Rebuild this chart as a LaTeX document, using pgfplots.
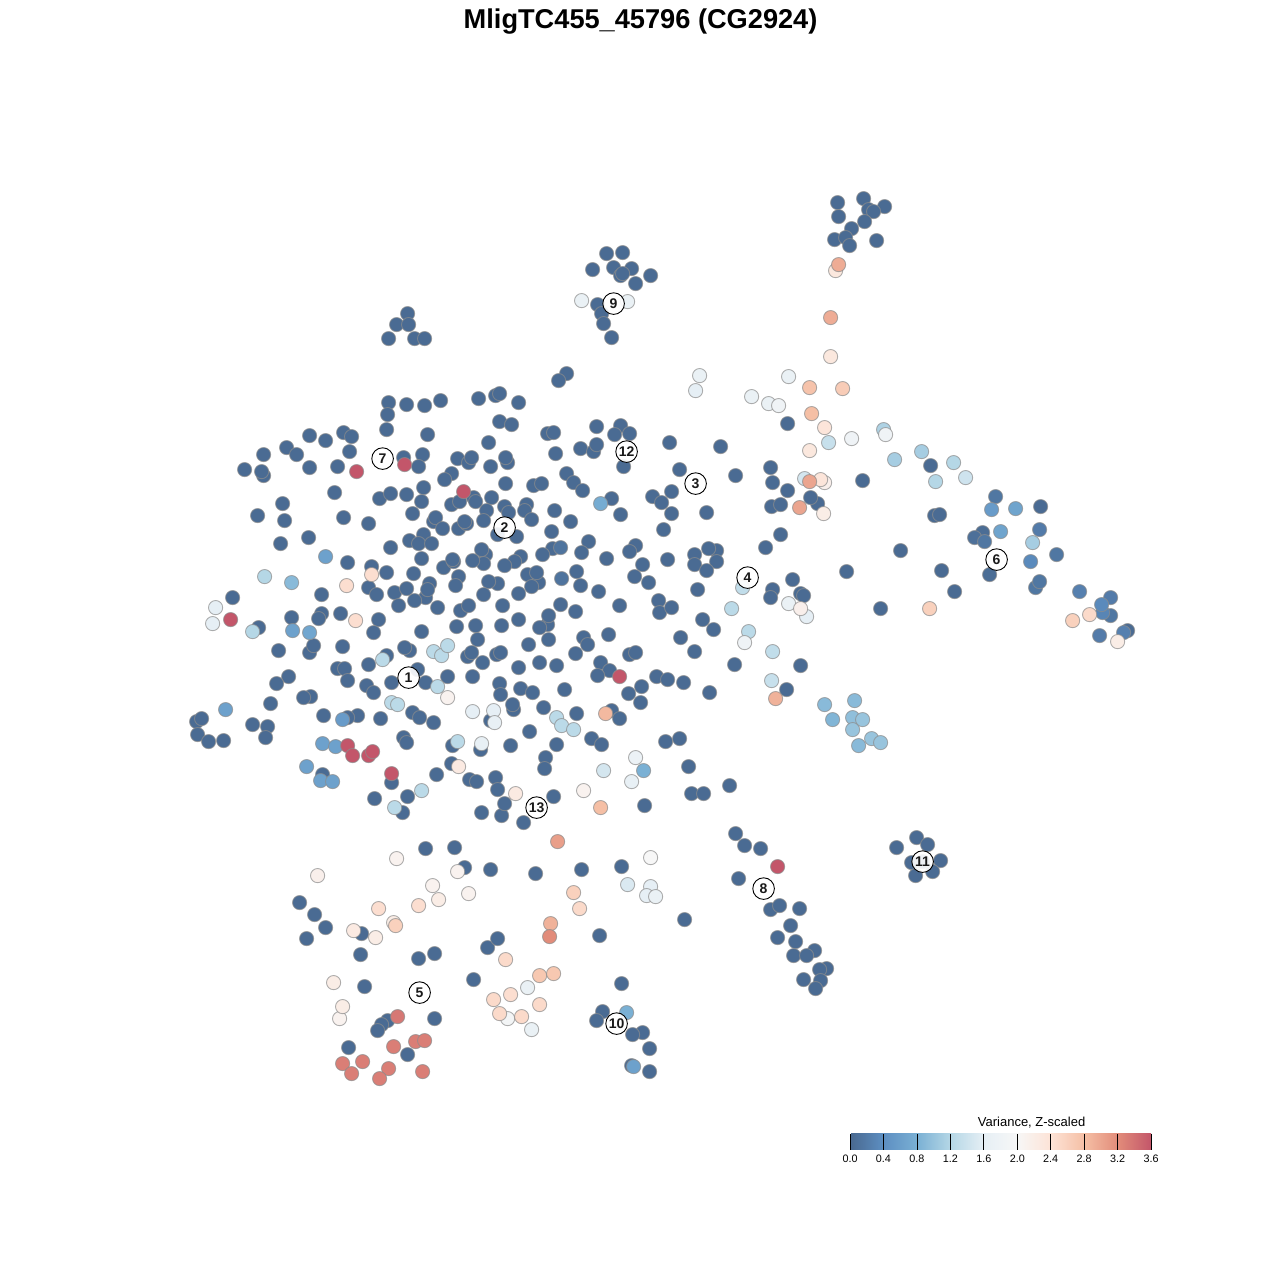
\documentclass[border=0pt]{standalone}
\usepackage{pgfplots}
\usepackage{fontspec}
\setmainfont{Liberation Sans}
\pgfplotsset{compat=1.18}
\begin{document}
\begin{tikzpicture}[x=1pt,y=1pt]
\path[use as bounding box] (0,0) rectangle (640,640);
\begin{axis}[
  at={(0,0)},anchor=south west,
  scale only axis,width=640pt,height=640pt,
  xmin=-0.6,xmax=1279.4,ymin=-0.6,ymax=1279.4,y dir=reverse,
  hide axis,clip=false,
  point meta min=0,point meta max=3.6,
  colormap={vr}{rgb255(0cm)=(73,104,143);rgb255(1cm)=(93,143,194);rgb255(2cm)=(122,176,212);rgb255(3cm)=(181,215,230);rgb255(4cm)=(230,239,245);rgb255(5cm)=(247,247,247);rgb255(6cm)=(253,227,214);rgb255(7cm)=(245,191,165);rgb255(8cm)=(226,140,122);rgb255(9cm)=(195,86,106)},
  colorbar horizontal,
  colorbar style={
    at={(0.6641,0.1016)},anchor=south west,
    scale only axis,width=150.5pt,height=8pt,
    xtick={0,0.4,0.8,1.2,1.6,2.0,2.4,2.8,3.2,3.6},
    tick align=inside,major tick length=8pt,
    tick style={black,line width=0.4pt},
    axis line style={draw=none},
    xticklabel style={font=\fontsize{5.4}{6}\selectfont,inner sep=1pt,yshift=-1.4pt},
    /pgf/number format/assume math mode=true,
    /pgf/number format/fixed,/pgf/number format/fixed zerofill,/pgf/number format/precision=1,
  },
]
\addplot[scatter,only marks,mark=*,mark size=3.55pt,
  point meta=explicit,
  scatter/use mapped color={draw=black!45,draw opacity=0.7,fill=mapped color},
  line width=0.45pt]
  table[x=x,y=y,meta=v]{
x y v
863 198 0.03
837 202 0.03
884 206 0.03
868 209 0.03
873 211 0.03
838 216 0.03
864 221 0.03
851 228 0.03
834 239 0.03
845 237 0.03
876 240 0.03
849 245 0.03
606 253 0.03
622 252 0.03
592 269 0.03
613 267 0.03
631 268 0.03
620 275 0.03
622 273 0.03
650 275 0.03
635 283 0.03
597 304 0.03
601 313 0.03
603 323 0.03
611 337 0.03
407 313 0.03
396 324 0.03
408 324 0.03
388 338 0.03
414 338 0.03
424 338 0.03
566 373 0.03
558 380 0.03
388 402 0.03
406 404 0.03
424 405 0.03
440 400 0.03
478 398 0.03
495 395 0.03
499 393 0.03
518 402 0.03
387 414 0.03
386 429 0.03
427 434 0.03
499 421 0.03
511 424 0.03
488 442 0.03
309 435 0.03
325 440 0.03
343 432 0.03
351 436 0.03
286 447 0.03
296 454 0.03
263 454 0.03
349 451 0.03
403 457 0.03
422 454 0.03
244 469 0.03
263 475 0.03
261 471 0.03
309 467 0.03
337 466 0.03
418 466 0.03
457 458 0.03
468 462 0.03
471 457 0.03
490 466 0.03
334 492 0.03
451 473 0.03
444 479 0.03
379 498 0.03
390 493 0.03
406 494 0.03
423 487 0.03
421 501 0.03
473 497 0.03
451 504 0.03
459 501 0.03
475 501 0.03
491 497 0.03
486 510 0.03
282 503 0.03
257 515 0.03
284 520 0.03
343 517 0.03
368 523 0.03
412 513 0.03
433 521 0.03
435 517 0.03
442 528 0.03
458 528 0.03
466 523 0.03
464 521 0.03
483 520 0.03
308 537 0.03
280 543 0.03
390 547 0.03
409 540 0.03
423 534 0.03
418 543 0.03
431 543 0.03
485 554 0.03
481 549 0.03
483 563 0.03
472 560 0.03
421 558 0.03
443 567 0.03
453 561 0.03
452 559 0.03
347 562 0.03
371 566 0.03
386 572 0.03
413 573 0.03
458 576 0.03
455 585 0.03
497 583 0.03
488 581 0.03
368 587 0.03
376 594 0.03
394 592 0.03
406 588 0.03
429 583 0.03
425 597 0.03
427 589 0.03
414 600 0.03
483 594 0.03
321 594 0.03
232 597 0.03
398 605 0.03
437 607 0.03
460 610 0.03
468 605 0.03
321 613 0.03
318 618 0.03
340 613 0.03
291 617 0.03
378 619 0.03
258 627 0.03
373 632 0.03
421 631 0.03
456 626 0.03
475 625 0.03
477 639 0.03
278 650 0.03
309 652 0.03
313 645 0.03
342 646 0.03
409 650 0.03
404 647 0.03
386 655 0.03
368 664 0.03
467 656 0.03
471 652 0.03
482 662 0.03
496 654 0.03
500 652 0.03
337 668 0.03
344 668 0.03
288 676 0.03
276 683 0.03
347 680 0.03
366 685 0.03
373 692 0.03
391 682 0.03
417 669 0.03
425 682 0.03
447 676 0.03
472 676 0.03
499 683 0.03
500 694 0.03
270 703 0.03
310 696 0.03
303 697 0.03
323 715 0.03
357 715 0.03
347 717 0.03
380 718 0.03
196 721 0.03
201 718 0.03
197 734 0.03
208 741 0.03
223 740 0.03
252 724 0.03
267 726 0.03
265 737 0.03
412 712 0.03
419 717 0.03
433 722 0.03
490 720 0.03
403 737 0.03
406 742 0.03
452 745 0.03
480 749 0.03
451 763 0.03
322 774 0.03
391 782 0.03
436 774 0.03
469 779 0.03
476 781 0.03
495 777 0.03
497 789 0.03
407 796 0.03
374 798 0.03
402 812 0.03
481 812 0.03
501 815 0.03
504 803 0.03
425 848 0.03
454 847 0.03
464 867 0.03
490 869 0.03
596 426 0.03
620 425 0.03
614 434 0.03
629 433 0.03
547 433 0.03
553 432 0.03
669 442 0.03
720 446 0.03
580 448 0.03
593 451 0.03
596 444 0.03
555 453 0.03
507 462 0.03
505 457 0.03
623 466 0.03
679 469 0.03
770 467 0.03
735 475 0.03
566 473 0.03
573 482 0.03
582 490 0.03
533 485 0.03
541 483 0.03
505 483 0.03
772 482 0.03
787 490 0.03
652 496 0.03
671 491 0.03
661 502 0.03
671 513 0.03
706 512 0.03
771 506 0.03
780 504 0.03
504 506 0.03
508 512 0.03
526 504 0.03
524 510 0.03
531 519 0.03
554 510 0.03
570 521 0.03
611 498 0.03
620 514 0.03
497 534 0.03
516 536 0.03
551 531 0.03
663 529 0.03
780 534 0.03
765 547 0.03
635 545 0.03
629 551 0.03
588 541 0.03
581 552 0.03
606 558 0.03
552 548 0.03
542 554 0.03
520 556 0.03
514 561 0.03
504 565 0.03
642 564 0.03
667 559 0.03
694 554 0.03
694 564 0.03
716 550 0.03
708 548 0.03
716 561 0.03
706 570 0.03
634 576 0.03
648 582 0.03
576 571 0.03
580 585 0.03
527 574 0.03
538 582 0.03
536 572 0.03
531 586 0.03
518 593 0.03
598 591 0.03
697 589 0.03
792 579 0.03
772 589 0.03
770 597 0.03
800 593 0.03
803 595 0.03
658 600 0.03
659 612 0.03
671 607 0.03
619 605 0.03
560 604 0.03
575 611 0.03
502 605 0.03
547 624 0.03
548 615 0.03
539 627 0.03
518 619 0.03
501 625 0.03
702 619 0.03
713 629 0.03
680 637 0.03
608 634 0.03
583 637 0.03
587 644 0.03
548 639 0.03
528 644 0.03
694 651 0.03
575 653 0.03
629 654 0.03
635 652 0.03
539 662 0.03
556 665 0.03
518 667 0.03
600 662 0.03
609 670 0.03
597 675 0.03
734 664 0.03
800 665 0.03
656 676 0.03
667 679 0.03
683 682 0.03
520 688 0.03
532 692 0.03
564 689 0.03
641 686 0.03
628 693 0.03
640 702 0.03
709 692 0.03
786 689 0.03
513 709 0.03
512 704 0.03
543 707 0.03
576 713 0.03
611 710 0.03
619 718 0.03
529 731 0.03
510 745 0.03
556 744 0.03
591 738 0.03
601 744 0.03
665 741 0.03
679 738 0.03
545 757 0.03
544 768 0.03
688 766 0.03
729 785 0.03
691 793 0.03
703 793 0.03
553 796 0.03
644 805 0.03
523 822 0.03
735 833 0.03
744 845 0.03
760 848 0.03
535 873 0.03
581 869 0.03
621 866 0.03
787 423 0.03
930 465 0.03
862 480 0.03
817 503 0.03
810 497 0.03
934 515 0.03
939 514 0.03
1040 506 0.03
982 532 0.05
974 537 0.08
900 550 0.03
989 574 0.05
941 570 0.03
954 591 0.03
846 571 0.03
880 608 0.03
1127 630 0.03
916 837 0.03
927 844 0.03
896 847 0.03
911 862 0.03
940 860 0.03
932 871 0.03
915 875 0.03
922 861 0.03
738 878 0.03
770 909 0.03
779 905 0.03
799 908 0.03
790 925 0.03
777 937 0.03
795 941 0.03
814 950 0.03
793 955 0.03
806 955 0.03
826 968 0.03
819 969 0.03
820 980 0.03
803 979 0.03
815 988 0.03
299 902 0.03
314 914 0.03
325 927 0.03
306 938 0.03
361 933 0.03
360 954 0.03
434 953 0.03
418 958 0.03
487 947 0.03
497 938 0.03
599 935 0.03
684 919 0.03
473 979 0.03
621 983 0.03
364 986 0.03
434 1018 0.03
387 1020 0.03
381 1024 0.03
377 1030 0.03
602 1011 0.03
596 1020 0.03
642 1032 0.03
632 1034 0.03
649 1048 0.03
631 1065 0.03
649 1071 0.03
348 1047 0.03
407 1054 0.03
561 578 0.12
560 547 0.12
995 496 0.15
984 541 0.15
1056 554 0.15
1035 587 0.15
1039 581 0.15
1110 615 0.15
1039 529 0.2
1099 635 0.2
1110 597 0.2
1123 632 0.25
1079 591 0.25
1102 612 0.3
1030 561 0.35
1101 604 0.35
342 719 0.55
292 630 0.62
325 556 0.62
225 709 0.62
322 743 0.62
335 746 0.62
306 766 0.62
320 780 0.62
332 781 0.62
633 1066 0.62
991 509 0.55
1015 508 0.65
1000 531 0.65
309 632 0.68
600 503 0.75
643 770 0.8
626 1012 0.8
832 719 0.85
291 582 0.9
824 704 0.9
854 700 0.9
858 745 0.9
852 717 0.95
852 729 1.0
862 719 1.0
871 738 1.0
880 742 1.0
894 459 1.1
921 451 1.1
883 429 1.15
1032 542 1.1
953 462 1.2
935 481 1.2
264 576 1.2
252 631 1.2
433 651 1.25
441 655 1.25
447 645 1.25
382 659 1.25
391 702 1.25
397 704 1.25
437 686 1.25
556 717 1.25
561 725 1.25
573 729 1.25
731 608 1.25
748 631 1.25
421 790 1.25
394 807 1.25
457 741 1.25
742 587 1.3
772 651 1.3
771 680 1.35
828 442 1.35
965 477 1.4
804 478 1.45
603 770 1.45
627 884 1.5
215 607 1.6
212 623 1.6
695 390 1.6
650 886 1.6
646 895 1.6
472 711 1.6
493 710 1.6
494 722 1.65
481 743 1.65
631 781 1.65
655 896 1.7
699 375 1.7
581 300 1.7
627 301 1.7
788 376 1.7
751 396 1.7
768 403 1.7
788 603 1.7
806 616 1.6
527 987 1.7
531 1029 1.7
635 757 1.75
778 405 1.8
851 438 1.8
885 434 1.8
744 642 1.8
507 1018 1.9
650 857 2.0
396 858 2.1
457 871 2.1
583 790 2.1
447 697 2.1
800 608 2.15
317 875 2.15
432 885 2.1
468 893 2.1
339 1018 2.1
824 482 2.15
823 513 2.2
438 899 2.2
342 1006 2.2
333 982 2.2
375 937 2.2
393 922 2.2
353 930 2.25
515 793 2.25
458 766 2.25
830 356 2.3
835 270 2.3
809 450 2.3
824 427 2.35
820 479 2.35
1117 641 2.2
355 620 2.45
346 585 2.45
371 574 2.45
378 908 2.45
418 905 2.45
510 994 2.45
579 908 2.5
505 959 2.5
493 999 2.5
499 1013 2.5
521 1016 2.5
539 1004 2.5
1089 614 2.5
395 925 2.6
1072 620 2.6
573 892 2.6
929 608 2.6
842 388 2.65
539 975 2.7
553 973 2.7
809 387 2.75
600 807 2.8
811 413 2.8
605 713 2.85
550 923 2.9
775 698 2.9
830 317 2.95
838 264 2.95
809 481 3.0
799 507 3.0
557 841 3.05
549 936 3.2
342 1063 3.3
362 1061 3.3
351 1073 3.3
388 1068 3.3
379 1078 3.3
422 1071 3.3
393 1046 3.3
415 1041 3.3
424 1040 3.3
397 1016 3.35
356 471 3.6
404 464 3.6
463 491 3.6
230 619 3.6
347 745 3.6
352 755 3.6
368 755 3.6
372 751 3.6
391 773 3.6
619 676 3.6
777 866 3.6
};
\addplot[only marks,mark=*,mark size=5.4pt,
  mark options={draw=black,line width=0.45pt,fill=white,fill opacity=0.9},
  point meta=explicit symbolic,
  nodes near coords,
  nodes near coords align={center},
  nodes near coords style={font=\fontsize{7}{8}\selectfont\bfseries,inner sep=0pt,anchor=center,text=black}]
  table[x=x,y=y,meta=t]{
x y t
408 677 1
504 527 2
695 483 3
747 577 4
419 992 5
996 559 6
382 458 7
763 888 8
613 303 9
616 1023 10
922 861 11
626 451 12
536 807 13
};
\node[font=\fontsize{13.6}{16}\selectfont\bfseries,anchor=center] at (axis cs:640,20.5) {MligTC455\_45796 (CG2924)};
\node[font=\fontsize{6.5}{7}\selectfont,anchor=center] at (axis cs:1031,1122.5) {Variance, Z-scaled};
\end{axis}
\end{tikzpicture}
\end{document}
